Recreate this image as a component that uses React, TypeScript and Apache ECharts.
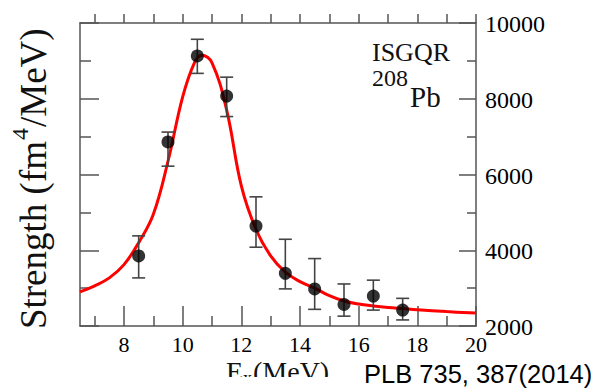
import React, { useEffect, useRef } from "react";
import * as echarts from "echarts";

// Smooth fit curve (E in MeV, strength)
const curveE = [6.5, 7.0, 7.5, 8.0, 8.5, 9.0, 9.5, 10.0, 10.4, 10.65, 11.0, 11.5, 12.0, 12.5, 13.0, 13.5, 14.0, 14.5, 15.0, 15.5, 16.0, 16.5, 17.0, 17.5, 18.0, 19.0, 20.0];
const curveS = [2900, 3060, 3270, 3620, 4200, 4950, 6350, 8050, 8950, 9150, 8950, 7700, 5700, 4550, 3850, 3420, 3170, 3000, 2800, 2660, 2580, 2530, 2490, 2460, 2430, 2380, 2340];

// Data points with error bars
const pointE = [8.5, 9.5, 10.5, 11.5, 12.5, 13.5, 14.5, 15.5, 16.5, 17.5];
const pointS = [3850, 6860, 9130, 8070, 4640, 3390, 2980, 2570, 2790, 2420];
const errLow = [3270, 6220, 8670, 7530, 4080, 2980, 2440, 2260, 2420, 2160];
const errHigh = [4380, 7120, 9570, 8570, 5410, 4290, 3780, 3110, 3210, 2730];

// Axis ticks / labels
const xLabelTicks = [8, 10, 12, 14, 16, 18, 20];
const xOddTicks = [7, 9, 11, 13, 15, 17, 19];
const xTopTicks = [7, 8, 9, 10, 11, 12, 13, 14, 15, 16, 17, 18, 19, 20];
const yLabelTicks = [2000, 4000, 6000, 8000, 10000];

const AXIS = "#555";
const SERIF = "Liberation Serif";

export default function App() {
  const ref = useRef<HTMLDivElement>(null);
  useEffect(() => {
    const chart = echarts.init(ref.current!, null, { renderer: "svg" });
    const lineStyle = { color: AXIS, width: 1.5 };
    const txt = { fontFamily: SERIF, fill: "#111" };
    chart.setOption({
      animation: false,
      backgroundColor: "#fff",
      grid: { left: 80, right: 122, top: 23, bottom: 66 },
      xAxis: [
        {
          type: "value", min: 6.5, max: 20, position: "bottom",
          axisLine: { show: true, onZero: false, lineStyle },
          axisTick: { show: true, inside: true, length: 20, customValues: xLabelTicks, lineStyle },
          axisLabel: { show: false },
          splitLine: { show: false },
        },
        {
          type: "value", min: 6.5, max: 20, position: "bottom",
          axisLine: { show: false, onZero: false },
          axisTick: { show: true, inside: true, length: 10, customValues: xOddTicks, lineStyle },
          axisLabel: { show: false },
          splitLine: { show: false },
        },
        {
          type: "value", min: 6.5, max: 20, position: "top",
          axisLine: { show: true, onZero: false, lineStyle },
          axisTick: { show: true, inside: false, length: 9, customValues: xTopTicks, lineStyle },
          axisLabel: { show: false },
          splitLine: { show: false },
        },
      ],
      yAxis: [
        {
          type: "value", min: 2000, max: 10000, interval: 2000, position: "left",
          axisLine: { show: true, onZero: false, lineStyle },
          axisTick: { show: true, inside: true, length: 19, lineStyle },
          minorTick: { show: true, splitNumber: 2, length: 11, lineStyle },
          axisLabel: { show: false },
          splitLine: { show: false },
        },
        {
          type: "value", min: 2000, max: 10000, interval: 2000, position: "right",
          axisLine: { show: true, onZero: false, lineStyle },
          axisTick: { show: true, inside: true, length: 17, lineStyle },
          minorTick: { show: true, splitNumber: 2, length: 9, lineStyle },
          axisLabel: { show: false },
          splitLine: { show: false },
        },
      ],
      series: [
        {
          type: "line", xAxisIndex: 0, yAxisIndex: 0, smooth: 0.4, symbol: "none", z: 2,
          lineStyle: { color: "#ff0000", width: 3 },
          data: curveE.map((e, i) => [e, curveS[i]]),
        },
        {
          type: "custom", xAxisIndex: 0, yAxisIndex: 0, z: 3,
          encode: { x: 0, y: [1, 2] },
          data: pointE.map((e, i) => [e, errLow[i], errHigh[i]]),
          renderItem: (params: any, api: any) => {
            const x = api.value(0);
            const lo = api.coord([x, api.value(1)]);
            const hi = api.coord([x, api.value(2)]);
            const hw = 6.5;
            const st = { stroke: "#444", lineWidth: 1.6 };
            return {
              type: "group",
              children: [
                { type: "line", shape: { x1: lo[0], y1: lo[1], x2: hi[0], y2: hi[1] }, style: st },
                { type: "line", shape: { x1: lo[0] - hw, y1: lo[1], x2: lo[0] + hw, y2: lo[1] }, style: st },
                { type: "line", shape: { x1: hi[0] - hw, y1: hi[1], x2: hi[0] + hw, y2: hi[1] }, style: st },
              ],
            };
          },
        },
        {
          type: "scatter", xAxisIndex: 0, yAxisIndex: 0, z: 4,
          symbol: "circle", symbolSize: 13,
          itemStyle: { color: "#000" },
          data: pointE.map((e, i) => [e, pointS[i]]),
        },
      ],
    });

    // Tick labels placed through the axes' own scales (serif font)
    const xLabels = xLabelTicks.map((v) => {
      const px = chart.convertToPixel({ xAxisIndex: 0 }, v) as number;
      const py = chart.convertToPixel({ yAxisIndex: 0 }, 2000) as number;
      return { type: "text", x: px, y: py + 7, z: 10, style: { ...txt, fill: "#000", text: String(v), fontSize: 22, align: "center", verticalAlign: "top" } };
    });
    const xRight = chart.convertToPixel({ xAxisIndex: 0 }, 20) as number;
    const yLabels = yLabelTicks.map((v) => {
      const py = chart.convertToPixel({ yAxisIndex: 1 }, v) as number;
      return { type: "text", x: xRight + 9, y: py + 1, z: 10, style: { ...txt, fill: "#000", text: String(v), fontSize: 24, align: "left", verticalAlign: "middle" } };
    });

    chart.setOption({
      graphic: [
        ...xLabels,
        ...yLabels,
        {
          type: "group", x: 33, y: 181, rotation: Math.PI / 2, z: 10,
          children: [
            { type: "text", x: 40, y: 0, style: { ...txt, text: "Strength (fm", fontSize: 37, align: "right", verticalAlign: "middle" } },
            { type: "text", x: 41, y: -13, style: { ...txt, text: "4", fontSize: 24, align: "left", verticalAlign: "middle" } },
            { type: "text", x: 54, y: 0, style: { ...txt, text: "/MeV)", fontSize: 37, align: "left", verticalAlign: "middle" } },
          ],
        },
        {
          type: "group", x: 277, y: 371, z: 10,
          children: [
            { type: "text", x: -34, y: 0, style: { ...txt, text: "E", fontSize: 28, align: "right", verticalAlign: "middle" } },
            { type: "text", x: -34, y: 7, style: { ...txt, text: "x", fontSize: 18, align: "left", verticalAlign: "middle" } },
            { type: "text", x: -24, y: 0, style: { ...txt, text: "(MeV)", fontSize: 28, align: "left", verticalAlign: "middle" } },
          ],
        },
        { type: "rect", z: 20, shape: { x: 200, y: 377, width: 160, height: 20 }, style: { fill: "#fff" } },
        {
          type: "text", x: 372, y: 52, z: 10,
          style: { ...txt, text: "ISGQR", fontSize: 26, align: "left", verticalAlign: "middle" },
        },
        {
          type: "text", x: 372, y: 78, z: 10,
          style: { ...txt, text: "208", fontSize: 24, align: "left", verticalAlign: "middle" },
        },
        {
          type: "text", x: 410, y: 97, z: 10,
          style: { ...txt, text: "Pb", fontSize: 29, align: "left", verticalAlign: "middle" },
        },
        {
          type: "text", x: 364, y: 374, z: 10,
          style: { text: "PLB 735, 387(2014)", fontFamily: "Liberation Sans", fontSize: 25.5, fill: "#000", align: "left", verticalAlign: "middle" },
        },
      ],
    });
    return () => chart.dispose();
  }, []);
  return <div ref={ref} style={{ position: "fixed", left: 0, top: 0, width: 598, height: 392, background: "#fff" }} />;
}
